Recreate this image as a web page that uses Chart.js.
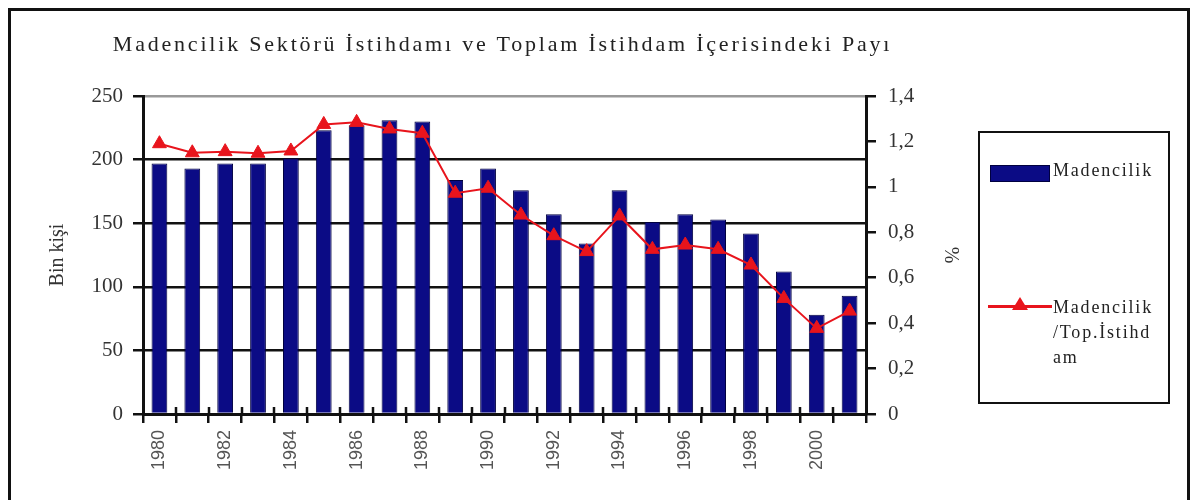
<!DOCTYPE html>
<html>
<head>
<meta charset="utf-8">
<script src="https://cdn.jsdelivr.net/npm/chart.js@4"></script>
<style>
  body { margin: 0; background: #fff; }
  #wrap { position: relative; width: 1192px; height: 500px; overflow: hidden; }
  #frame { position: absolute; left: 8px; top: 8px; width: 1176px; height: 520px; border: 3px solid #111; }
  #title { position: absolute; left: 0; top: 31px; width: 1005px; text-align: center;
    font: 22px "Liberation Serif", serif; letter-spacing: 2.8px; color: #222; }
  #legend { position: absolute; left: 978px; top: 131px; width: 188px; height: 269px;
    border: 2px solid #111; font: 18px "Liberation Serif", serif; letter-spacing: 1.8px; color: #222; }
  .sw { position: absolute; left: 10px; top: 32px; width: 58px; height: 15px; background: #0b0b85; border: 1px solid #000040; }
  .t1 { position: absolute; left: 73px; top: 27px; }
  .ln { position: absolute; left: 8px; top: 172px; width: 64px; height: 3px; background: #e8141c; }
  .tri { position: absolute; left: 32px; top: 164px; width: 0; height: 0;
    border-left: 8px solid transparent; border-right: 8px solid transparent; border-bottom: 13px solid #e8141c; }
  .t2 { position: absolute; left: 73px; top: 162px; line-height: 25px; }
  canvas { position: absolute; left: 0; top: 0; }
</style>
</head>
<body>
<div id="wrap">
  <canvas id="chart" width="1192" height="500"></canvas>
  <div id="frame"></div>
  <div id="title">Madencilik Sektörü İstihdamı ve Toplam İstihdam İçerisindeki Payı</div>
  <div id="legend">
    <div class="sw"></div><div class="t1">Madencilik</div>
    <div class="ln"></div><div class="tri"></div>
    <div class="t2">Madencilik<br>/Top.İstihd<br>am</div>
  </div>
</div>
<script>
// data
const years = ['1980','1981','1982','1983','1984','1985','1986','1987','1988','1989','1990',
  '1991','1992','1993','1994','1995','1996','1997','1998','1999','2000','2001'];
const madencilik = [197, 193, 197, 197, 201, 223, 227, 231, 230, 184, 193,
  176, 157, 134, 176, 151, 157, 153, 142, 112, 78, 93];
const payi = [1.19, 1.15, 1.155, 1.148, 1.158, 1.275, 1.284, 1.255, 1.236, 0.972, 0.994,
  0.876, 0.785, 0.715, 0.872, 0.725, 0.744, 0.725, 0.656, 0.509, 0.377, 0.453];
const leftTicks = [0, 50, 100, 150, 200, 250];
const rightTicks = [0, 0.2, 0.4, 0.6, 0.8, 1, 1.2, 1.4];

const serif = '"Liberation Serif", "Times New Roman", serif';

// short tick stubs poking up into the plot from the x axis, like the original
const innerTicks = {
  id: 'innerTicks',
  afterDatasetsDraw(chart) {
    const x = chart.scales.x;
    const c = chart.ctx;
    const step = (x.right - x.left) / years.length;
    c.save();
    c.strokeStyle = '#111';
    c.lineWidth = 2.5;
    c.beginPath();
    for (let i = 1; i < years.length; i++) {
      const px = Math.round(x.left + i * step);
      c.moveTo(px, x.top);
      c.lineTo(px, x.top - 7);
    }
    c.stroke();
    c.restore();
  }
};

const ctx = document.getElementById('chart').getContext('2d');

const chart = new Chart(ctx, {
  type: 'bar',
  data: {
    labels: years,
    datasets: [{
      type: 'line',
      label: 'Madencilik /Top.İstihdam',
      data: payi,
      yAxisID: 'y1',
      borderColor: '#e8141c',
      backgroundColor: '#e8141c',
      borderWidth: 2,
      pointStyle: 'triangle',
      pointRadius: 8,
      pointBorderWidth: 1,
      tension: 0,
      order: 0
    }, {
      label: 'Madencilik',
      data: madencilik,
      yAxisID: 'y',
      backgroundColor: '#0b0b85',
      borderColor: '#000040',
      borderWidth: 1,
      barPercentage: 0.48,
      categoryPercentage: 1,
      order: 1
    }]
  },
  options: {
    responsive: false,
    animation: false,
    layout: { padding: { left: 46, right: 230, top: 96, bottom: 0 } },
    plugins: {
      legend: { display: false },
      tooltip: { enabled: false }
    },
    scales: {
      x: {
        offset: true,
        grid: { drawOnChartArea: false, offset: true, color: '#111', lineWidth: 2.5, tickLength: 9 },
        border: { color: '#111', width: 3 },
        ticks: {
          autoSkip: false,
          minRotation: 90,
          maxRotation: 90,
          padding: 7,
          color: '#555',
          font: { family: '"Liberation Sans", Arial, sans-serif', size: 18 },
          callback: function(value, index) {
            return index % 2 === 0 ? years[index] : '';
          }
        },
        afterFit: function(scale) { scale.height = 86; }
      },
      y: {
        position: 'left',
        min: 0,
        max: 250,
        afterBuildTicks: function(scale) { scale.ticks = leftTicks.map(v => ({ value: v })); },
        grid: {
          color: function(c) { return c.tick.value === 250 ? '#999' : '#111'; },
          lineWidth: 2.5,
          tickLength: 10,
          tickColor: '#111'
        },
        border: { color: '#111', width: 3 },
        ticks: { padding: 10, color: '#333', font: { family: serif, size: 21 } },
        title: { display: true, text: 'Bin kişi', padding: 0, color: '#333', font: { family: serif, size: 20 } },
        afterFit: function(scale) { scale.width = 97; }
      },
      y1: {
        position: 'right',
        min: 0,
        max: 1.4,
        afterBuildTicks: function(scale) { scale.ticks = rightTicks.map(v => ({ value: v })); },
        grid: { drawOnChartArea: false, color: '#111', lineWidth: 2.5, tickLength: 10 },
        border: { color: '#111', width: 3 },
        ticks: {
          padding: 12,
          color: '#333',
          font: { family: serif, size: 21 },
          callback: function(value) { return String(value).replace('.', ','); }
        },
        title: { display: true, text: '%', padding: 0, color: '#333', font: { family: serif, size: 20 } },
        afterFit: function(scale) { scale.width = 96; }
      }
    }
  },
  plugins: [innerTicks]
});
</script>
</body>
</html>
